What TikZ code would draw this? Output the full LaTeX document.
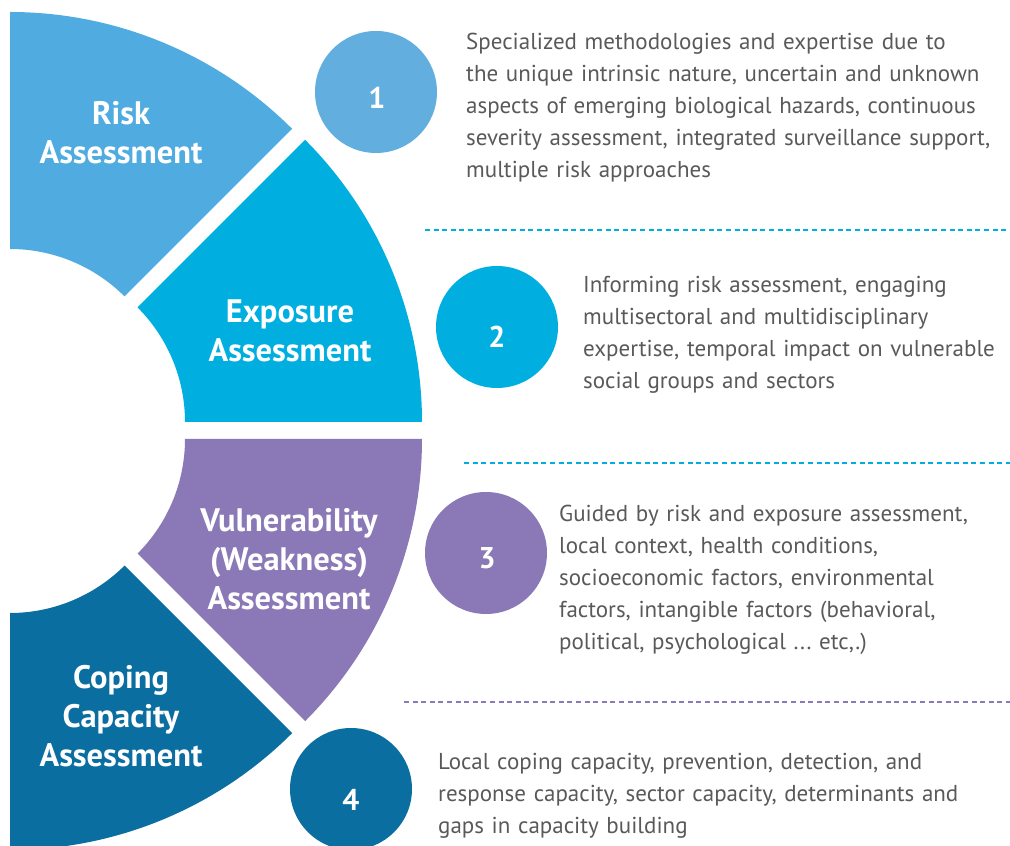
\documentclass[tikz,border=0pt]{standalone}
\usepackage{fontspec}
\setmainfont{PT Sans}
\usetikzlibrary{calc}
\definecolor{riskc}{HTML}{50ACE0}
\definecolor{onec}{HTML}{62AEDE}
\definecolor{expoc}{HTML}{00AFE0}
\definecolor{vulnc}{HTML}{8A79B6}
\definecolor{copec}{HTML}{0A6EA0}
\definecolor{txtc}{HTML}{58595B}
\newcommand\mysector[4]{%
  \fill[#1] ($(#2)+(#3:162)$) -- ($(#2)+(#3:399)$)
    arc[start angle=#3, end angle=#4, radius=399]
    -- ($(#2)+(#4:162)$)
    arc[start angle=#4, end angle=#3, radius=162] -- cycle;}
\begin{document}
\begin{tikzpicture}[x=1pt,y=1pt,
  seglabel/.style={text=white, font={\fontsize{32.5}{39}\selectfont\bfseries},
    align=center, text width=260pt, inner sep=0pt, anchor=base},
  numcirc/.style={circle, minimum size=122pt, inner sep=0pt},
  digit/.style={text=white, font={\fontsize{30}{30}\selectfont\bfseries}, inner sep=0pt},
  bodytext/.style={text=txtc, font={\fontsize{23}{32}\selectfont},
    align=left, text width=560pt, inner sep=0pt, anchor=base west},
  sep/.style={line width=1.5pt, dash pattern=on 5pt off 3.6pt}
]
\useasboundingbox (0,0) rectangle (1010,846);
\clip (0,0) rectangle (1010,846);
% sector centres
\coordinate (crisk) at (10,435);
\coordinate (cexpo) at (23,424);
\coordinate (cvuln) at (23,407);
\coordinate (ccope) at (10,395);
\mysector{riskc}{crisk}{90}{45}
\mysector{expoc}{cexpo}{45}{0}
\mysector{vulnc}{cvuln}{0}{-45}
\mysector{copec}{ccope}{-45}{-90}
% segment labels
\node[seglabel] (lrisk) at (121,721) {Risk\\Assessment};
\node[seglabel] (lexpo) at (290,523) {Exposure\\Assessment};
\node[seglabel] (lvuln) at (289,314) {Vulnerability\\(Weakness)\\Assessment};
\node[seglabel] (lcope) at (121,157) {Coping\\Capacity\\Assessment};
% number circles
\node[numcirc, fill=onec] (n1) at (376,754) {};
\node[numcirc, fill=expoc] (n2) at (497,519) {};
\node[numcirc, fill=vulnc] (n3) at (486,293) {};
\node[numcirc, fill=copec] (n4) at (351,57) {};
\node[digit] (d1) at (377,748) {1};
\node[digit] (d2) at (497,509) {2};
\node[digit] (d3) at (487,288) {3};
\node[digit] (d4) at (351,46) {4};
% descriptions
\node[bodytext] (t1) at (466,796) {Specialized methodologies and expertise due to\\
the unique intrinsic nature, uncertain and unknown\\
aspects of emerging biological hazards, continuous\\
severity assessment, integrated surveillance support,\\
multiple risk approaches};
\node[bodytext] (t2) at (583,553) {Informing risk assessment, engaging\\
multisectoral and multidisciplinary\\
expertise, temporal impact on vulnerable\\
social groups and sectors};
\node[bodytext] (t3) at (559,324) {Guided by risk and exposure assessment,\\
local context, health conditions,\\
socioeconomic factors, environmental\\
factors, intangible factors (behavioral,\\
political, psychological ...\ etc,.)};
\node[bodytext] (t4) at (438,76) {Local coping capacity, prevention, detection, and\\
response capacity, sector capacity, determinants and\\
gaps in capacity building};
% separators
\coordinate (s1a) at (425,616); \coordinate (s1b) at (1010,616);
\coordinate (s2a) at (464,383); \coordinate (s2b) at (1010,383);
\coordinate (s3a) at (404,144); \coordinate (s3b) at (1010,144);
\draw[sep, draw=expoc] (s1a) -- (s1b);
\draw[sep, draw=expoc] (s2a) -- (s2b);
\draw[sep, draw=vulnc] (s3a) -- (s3b);
\end{tikzpicture}
\end{document}
